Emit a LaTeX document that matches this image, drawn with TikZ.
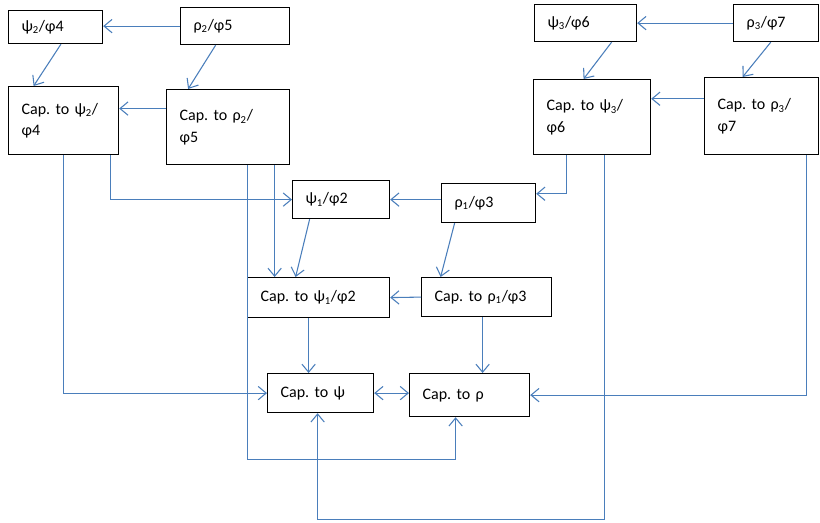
\documentclass[tikz,border=0pt]{standalone}
\usepackage{fontspec}
\setmainfont{Carlito}
\usetikzlibrary{arrows.meta}
\definecolor{Steel}{HTML}{4A7EBB}
\frenchspacing
\tikzset{
  block/.style={
    draw=black, line width=0.9pt, anchor=north west, align=left,
    inner xsep=9.75pt, inner ysep=2pt,
    font=\fontsize{12}{16}\selectfont
  },
  flow/.style={-{Straight Barb[length=6pt,width=10pt]}, draw=Steel, line width=0.8pt},
  twoflow/.style={{Straight Barb[length=6pt,width=10pt]}-{Straight Barb[length=6pt,width=10pt]},
    draw=Steel, line width=0.8pt}
}

\begin{document}
\begin{tikzpicture}[x=0.75pt,y=-0.75pt]
  \useasboundingbox (0,0) rectangle (820,523);
  % left group
  \node[block,text width=51pt,minimum height=24.75pt] (psiTwo) at (8,10) {ψ\textsubscript{2}/φ4};
  \node[block,text width=62.25pt,minimum height=27.75pt] (rhoTwo) at (180,7) {ρ\textsubscript{2}/φ5};
  \node[block,text width=63pt,minimum height=51pt] (capPsiTwo) at (8,86) {Cap. to ψ\textsubscript{2}/\\φ4};
  \node[block,text width=72.75pt,minimum height=56.25pt] (capRhoTwo) at (166,89) {Cap. to ρ\textsubscript{2}/\\φ5};
  % right group
  \node[block,text width=57pt,minimum height=27.75pt] (psiThree) at (534,4) {ψ\textsubscript{3}/φ6};
  \node[block,text width=44.25pt,minimum height=27.75pt] (rhoThree) at (733,4) {ρ\textsubscript{3}/φ7};
  \node[block,text width=68.25pt,minimum height=56.25pt] (capPsiThree) at (533,79) {Cap. to ψ\textsubscript{3}/\\φ6};
  \node[block,text width=66pt,minimum height=57.75pt] (capRhoThree) at (704,77) {Cap. to ρ\textsubscript{3}/\\φ7};
  % middle group
  \node[block,text width=53.25pt,minimum height=28.5pt] (psiOne) at (292,180) {ψ\textsubscript{1}/φ2};
  \node[block,text width=51pt,minimum height=29.25pt] (rhoOne) at (441,183) {ρ\textsubscript{1}/φ3};
  \node[block,text width=87pt,minimum height=30pt] (capPsiOne) at (247,277) {Cap. to ψ\textsubscript{1}/φ2};
  \node[block,text width=78pt,minimum height=29.25pt] (capRhoOne) at (421,277) {Cap. to ρ\textsubscript{1}/φ3};
  \node[block,text width=60pt,minimum height=29.25pt] (capPsi) at (267,373) {Cap. to ψ};
  \node[block,text width=70.5pt,minimum height=32.25pt] (capRho) at (409,373) {Cap. to ρ};

  \draw[flow] (rhoTwo.west) -- (psiTwo.east |- rhoTwo.west);
  \draw[flow] ([xshift=4pt]psiTwo.south) -- ([xshift=-22.5pt]capPsiTwo.north);
  \draw[flow] ([xshift=-14.6pt]rhoTwo.south) -- ([xshift=-30pt]capRhoTwo.north);
  \draw[flow] ([yshift=13.9pt]capRhoTwo.west) coordinate (dc) -- (dc -| capPsiTwo.east);
  \draw[flow] ([xshift=35.25pt]capPsiTwo.south) |- (psiOne.west);
  \draw[flow] (capPsiTwo.south) |- (capPsi.west);
  \draw[flow] ([xshift=34.9pt]capRhoTwo.south) coordinate (dk) -- (dk |- capPsiOne.north);
  \draw[flow] ([xshift=14.6pt]capRhoTwo.south) |- ([xshift=-10.5pt,yshift=-31.5pt]capRho.south)
    -- ([xshift=-10.5pt]capRho.south);

  \draw[flow] ([xshift=-23.6pt]psiOne.south) -- ([xshift=-17.25pt]capPsiOne.north);
  \draw[flow] (rhoOne.west |- psiOne.east) -- (psiOne.east);
  \draw[flow] ([xshift=-25.5pt]rhoOne.south) -- ([xshift=-34.5pt]capRhoOne.north);
  \draw[flow] (capRhoOne.west) -- (capPsiOne.east);
  \draw[flow] ([xshift=-7.5pt]capPsiOne.south) coordinate (km) -- (km |- capPsi.north);
  \draw[flow] ([xshift=-3pt]capRhoOne.south) coordinate (ln) -- (ln |- capRho.north);
  \draw[twoflow] (capPsi.east) -- (capRho.west |- capPsi.east);

  \draw[flow] (rhoThree.west) -- (psiThree.east);
  \draw[flow] ([xshift=19.5pt]psiThree.south) -- ([xshift=-6.4pt]capPsiThree.north);
  \draw[flow] ([xshift=-4pt]rhoThree.south) -- ([xshift=-14.25pt]capRhoThree.north);
  \draw[flow] ([yshift=13pt]capRhoThree.west) coordinate (hg) -- (hg -| capPsiThree.east);
  \draw[flow] ([xshift=-19pt]capPsiThree.south) |- ([yshift=7pt]rhoOne.east);
  \draw[flow] ([xshift=9.4pt]capPsiThree.south) |- ([xshift=-2.25pt,yshift=-79.5pt]capPsi.south)
    -- ([xshift=-2.25pt]capPsi.south);
  \draw[flow] ([xshift=33.75pt]capRhoThree.south) |- (capRho.east);
\end{tikzpicture}
\end{document}
